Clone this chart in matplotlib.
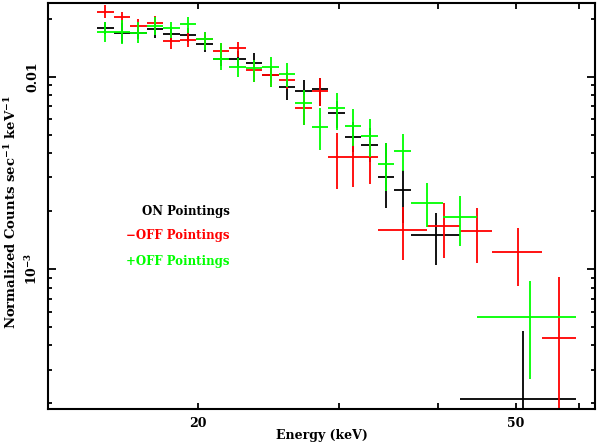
import matplotlib
matplotlib.use("Agg")
import matplotlib.pyplot as plt
from matplotlib.ticker import FixedLocator, FixedFormatter, LogLocator, NullFormatter
import numpy as np

plt.rcParams['font.family'] = ['DejaVu Serif']
plt.rcParams['font.weight'] = 'bold'
plt.rcParams['mathtext.fontset'] = 'dejavuserif'
plt.rcParams['mathtext.default'] = 'bf'

# ---- data ----
narrow_edges = [14.95, 15.68, 16.44, 17.25, 18.09, 18.97, 19.90, 20.87, 21.89, 22.96,
                24.08, 25.25, 26.48, 27.77, 29.13, 30.55, 32.04, 33.61, 35.25, 36.97]

# ON pointings (black)
on_elo = narrow_edges[0:19] + [36.97, 42.58]
on_ehi = narrow_edges[1:20] + [42.58, 59.43]
on_val = [0.01785, 0.01681, 0.01681, 0.01764, 0.0166, 0.01647, 0.01479, 0.01236, 0.01231, 0.01174,
          0.0102, 0.00887, 0.00846, 0.0086, 0.00645, 0.00488, 0.00441, 0.00302, 0.00258, 0.0015, 0.00021]
on_hi = [0.0192, 0.01895, 0.01807, 0.01925, 0.01807, 0.0179, 0.01628, 0.01344, 0.0136, 0.01323,
         0.0112, 0.00996, 0.00961, 0.00984, 0.00748, 0.00581, 0.00541, 0.00452, 0.00327, 0.00196, 0.000476]
on_lo = [0.0166, 0.01492, 0.01565, 0.01584, 0.01528, 0.0152, 0.01344, 0.01137, 0.0112, 0.00996,
         0.00927, 0.00757, 0.00757, 0.00704, 0.00541, 0.00406, 0.0036, 0.00208, 0.00174, 0.00105, 1e-5]

# -OFF pointings (red)
moff_elo = narrow_edges[0:17] + [33.61, 38.71, 42.58, 46.76, 53.93]
moff_ehi = narrow_edges[1:18] + [38.71, 42.58, 46.76, 53.93, 59.43]
moff_val = [0.0218, 0.0204, 0.01835, 0.01909, 0.01539, 0.0155, 0.01565, 0.01365, 0.01405, 0.01083,
            0.0102, 0.00961, 0.00685, 0.00846, 0.00383, 0.00381, 0.0038, 0.001595, 0.001674, 0.00158,
            0.00122, 0.000438]
moff_hi = [0.0236, 0.0218, 0.01988, 0.0207, 0.01687, 0.0168, 0.0171, 0.01497, 0.01521, 0.01197,
           0.0111, 0.0106, 0.00803, 0.00981, 0.00508, 0.00469, 0.00452, 0.00211, 0.00221, 0.00208,
           0.00163, 0.000912]
moff_lo = [0.0201, 0.01895, 0.01681, 0.01764, 0.01393, 0.0142, 0.0143, 0.01221, 0.0127, 0.00942,
           0.00887, 0.00863, 0.00561, 0.00704, 0.0026, 0.00267, 0.00277, 0.001113, 0.001137, 0.00108,
           0.000816, 1e-5]

# +OFF pointings (green)
poff_elo = narrow_edges[0:19] + [36.97, 40.54, 44.67]
poff_ehi = narrow_edges[1:20] + [40.54, 44.67, 59.43]
poff_val = [0.01714, 0.01714, 0.01694, 0.01835, 0.01785, 0.01879, 0.01565, 0.01231, 0.01127, 0.0111,
            0.01117, 0.01033, 0.00727, 0.0055, 0.00685, 0.00554, 0.00492, 0.00352, 0.00412, 0.00221,
            0.00186, 0.000565]
poff_hi = [0.01932, 0.0197, 0.01925, 0.0204, 0.01932, 0.0205, 0.01714, 0.01492, 0.01246, 0.01221,
           0.01266, 0.01178, 0.00853, 0.00688, 0.00823, 0.00679, 0.00603, 0.00452, 0.00504, 0.00281,
           0.0024, 0.000866]
poff_lo = [0.01521, 0.01479, 0.01496, 0.01647, 0.01584, 0.01681, 0.01377, 0.01083, 0.01, 0.00942,
           0.00887, 0.00887, 0.00561, 0.00416, 0.00528, 0.00436, 0.00384, 0.00255, 0.00325, 0.00165,
           0.00131, 0.000268]

series = [
    ("ON Pointings", "black", on_elo, on_ehi, on_val, on_lo, on_hi),
    ("\u2212OFF Pointings", "#ff0000", moff_elo, moff_ehi, moff_val, moff_lo, moff_hi),
    ("+OFF Pointings", "#00ff00", poff_elo, poff_ehi, poff_val, poff_lo, poff_hi),
]

x_ticks = [20, 30, 40, 50, 60]
x_ticklabels = ["20", "", "", "50", ""]

# ---- figure ----
fig = plt.figure(figsize=(5.98, 4.46), dpi=100)
ax = fig.add_axes([48/598, 1-409/446, (595-48)/598, (409-3)/446])

for name, col, elo, ehi, val, lo, hi in series:
    elo = np.array(elo); ehi = np.array(ehi)
    val = np.array(val); lo = np.array(lo); hi = np.array(hi)
    xc = (elo + ehi) / 2
    ax.errorbar(xc, val, xerr=[xc - elo, ehi - xc], yerr=[val - lo, hi - val],
                fmt='none', ecolor=col, elinewidth=1.3, capsize=0)

ax.set_xscale('log')
ax.set_yscale('log')
ax.set_xlim(12.98, 62.84)
ax.set_ylim(1.87e-4, 0.02415)

ax.xaxis.set_major_locator(FixedLocator(x_ticks))
ax.xaxis.set_major_formatter(FixedFormatter(x_ticklabels))
ax.xaxis.set_minor_locator(FixedLocator([]))
ax.xaxis.set_minor_formatter(NullFormatter())

ax.yaxis.set_major_locator(FixedLocator([1e-3, 1e-2]))
ax.yaxis.set_major_formatter(FixedFormatter([r"$10^{-3}$", "0.01"]))
ax.yaxis.set_minor_locator(LogLocator(base=10, subs=np.arange(2, 10)))
ax.yaxis.set_minor_formatter(NullFormatter())

ax.tick_params(axis='both', which='both', direction='in', top=True, right=True, width=1.3)
ax.tick_params(axis='x', which='major', length=4, pad=6, labelsize=9)
ax.tick_params(axis='y', which='major', length=6, pad=6, labelsize=9)
ax.tick_params(axis='y', which='minor', length=3)
for lab in ax.get_yticklabels():
    lab.set_rotation(90)
    lab.set_va('center')
for sp in ax.spines.values():
    sp.set_linewidth(1.5)

ax.set_xlabel("Energy (keV)", fontsize=9, fontweight='bold')
ax.xaxis.set_label_coords(0.5, (409 - 429) / 406)
ax.set_ylabel("Normalized Counts sec$^{-1}$ keV$^{-1}$", fontsize=9.5, fontweight='bold')
ax.yaxis.set_label_coords((19 - 48) / 547, (409 - 212) / 406)

ys = [211.7, 235.7, 261.7]
for (name, col, *_), yp in zip(series, ys):
    fig.text(230/598, 1 - yp/446, name, color=col, ha='right', va='center',
             fontsize=8.5, fontweight='bold')

fig.savefig("out.png", dpi=100)
